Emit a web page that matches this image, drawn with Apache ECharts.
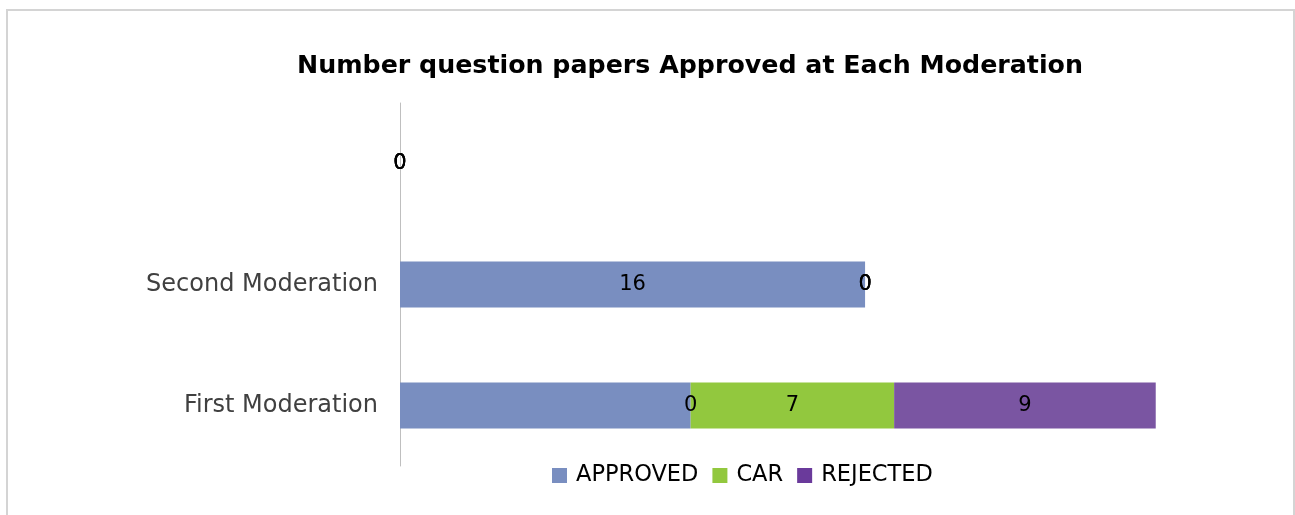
<!DOCTYPE html>
<html>
<head>
<meta charset="utf-8">
<script src="https://cdn.jsdelivr.net/npm/echarts@6/dist/echarts.min.js"></script>
<style>
  html, body { margin: 0; padding: 0; background: #fff; }
  #chart { width: 1295px; height: 515px; }
</style>
</head>
<body>
<div id="chart"></div>
<script>
// Moderation stages, bottom to top (the top band is an empty stage)
const categories = ['First Moderation', 'Second Moderation', ''];
const approved = [10, 16, 0];
const pending = [0, 0, 0];   // unnamed zero series sitting between APPROVED and CAR
const car = [7, 0, 0];
const rejected = [9, 0, 0];

const FONT = 'DejaVu Sans';
const labelStyle = { show: true, position: 'inside', color: '#000', fontSize: 21, fontFamily: FONT };

const chart = echarts.init(document.getElementById('chart'), null, { renderer: 'canvas' });
chart.setOption({
  animation: false,
  title: {
    text: 'Number question papers Approved at Each Moderation',
    left: 685, top: 49, textAlign: 'center',
    textStyle: { fontFamily: FONT, fontWeight: 'bold', fontSize: 25.3, color: '#000' }
  },
  graphic: [{
    type: 'rect', silent: true,
    shape: { x: 7, y: 10, width: 1287, height: 540 },
    style: { fill: 'none', stroke: '#d4d4d4', lineWidth: 2 }
  }],
  legend: {
    bottom: 23, left: 547,
    itemWidth: 15, itemHeight: 15, itemGap: 14,
    icon: 'rect',
    textStyle: { fontFamily: FONT, fontSize: 22.5, color: '#000', padding: [0, 0, 0, 4] },
    data: [
      { name: 'APPROVED', itemStyle: { color: '#798EC0' } },
      { name: 'CAR', itemStyle: { color: '#92C83E' } },
      { name: 'REJECTED', itemStyle: { color: '#6A3A9B' } }
    ]
  },
  grid: { left: 400, right: 23, top: 103, bottom: 49, containLabel: false },
  xAxis: { type: 'value', min: 0, max: 30, show: false },
  yAxis: {
    type: 'category', data: categories,
    axisLine: { show: true, lineStyle: { color: '#bfbfbf', width: 1 } },
    axisTick: { show: false },
    axisLabel: { fontFamily: FONT, fontSize: 24, color: '#404040', margin: 22 }
  },
  series: [
    {
      name: 'APPROVED', type: 'bar', stack: 'total', barWidth: '38%',
      itemStyle: { color: '#798EC0' }, label: labelStyle,
      data: approved.map((v, i) => i === 0 ? { value: v, label: { show: false } } : v)
    },
    {
      name: 'pending', type: 'bar', stack: 'total', barWidth: '38%',
      itemStyle: { color: '#798EC0' }, label: labelStyle, data: pending
    },
    {
      name: 'CAR', type: 'bar', stack: 'total', barWidth: '38%',
      itemStyle: { color: '#92C83E' }, label: labelStyle, data: car
    },
    {
      name: 'REJECTED', type: 'bar', stack: 'total', barWidth: '38%',
      itemStyle: { color: '#7A55A2' }, label: labelStyle, data: rejected
    }
  ]
});
</script>
</body>
</html>
